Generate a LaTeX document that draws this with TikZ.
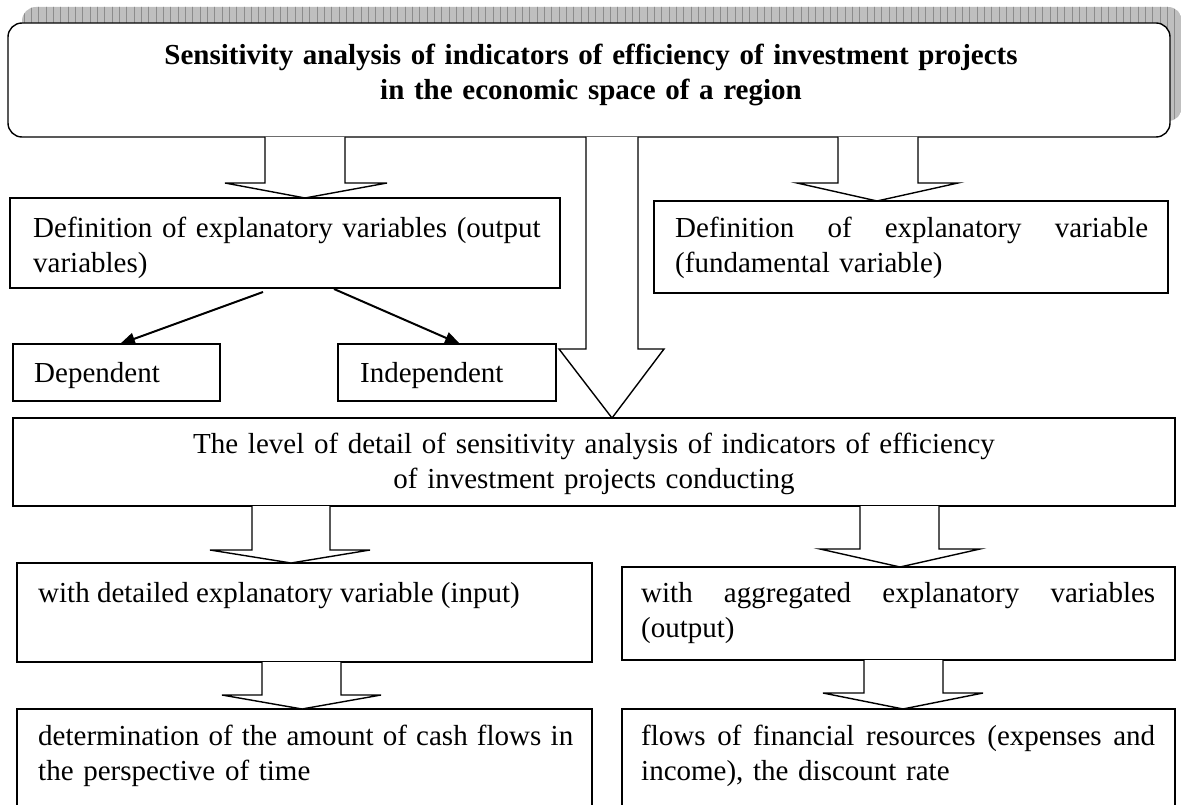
\documentclass[tikz,border=0pt]{standalone}
\usepackage{fontspec}
\setmainfont{Liberation Serif}
\usetikzlibrary{arrows.meta,calc}
\newcommand\blockarr[8]{%
  \draw[blockarrow] (#3,0 |- #1.south) -- (#3,#7) -- (#5,#7) -- (#8,0 |- #2.north) -- (#6,#7) -- (#4,#7) -- (#4,0 |- #1.south);}
\begin{document}
\begin{tikzpicture}[x=1pt,y=-1pt,
  box/.style={draw, line width=1.4pt, fill=white, anchor=north west, inner sep=0pt, outer sep=0pt},
  txt/.style={font=\fontsize{29}{35}\selectfont, inner sep=0pt, anchor=base west, align=left},
  blockarrow/.style={draw, fill=white, line width=1.4pt, line join=miter},
  conn/.style={line width=2pt, -{Triangle[length=15pt,width=12pt]}},
  shadowfill/.style={fill=black!25},
  shadowline/.style={draw=black!45, line width=0.8pt}]
\useasboundingbox (0,0) rectangle (1181,805);
\clip (0,0) rectangle (1181,805);
% shadow of the title box
\begin{scope}
  \clip[rounded corners=14pt] (22,7) rectangle (1182,121);
  \fill[shadowfill] (0,0) rectangle (1181,130);
  \foreach \i in {0,...,160} { \draw[shadowline] (24+7.33*\i,0) -- (24+7.33*\i,130); }
\end{scope}
% boxes
\node[box, rounded corners=14pt, minimum width=1162pt, minimum height=114pt] (top) at (8,23) {};
\node[box, minimum width=550pt, minimum height=90pt] (b1) at (10,198) {};
\node[box, minimum width=514pt, minimum height=92pt] (b2) at (654,201) {};
\node[box, minimum width=207pt, minimum height=57pt] (dep) at (13,344) {};
\node[box, minimum width=218pt, minimum height=57pt] (ind) at (338,344) {};
\node[box, minimum width=1162pt, minimum height=88pt] (lvl) at (13,418) {};
\node[box, minimum width=575pt, minimum height=99pt] (b5) at (17,563) {};
\node[box, minimum width=553pt, minimum height=93pt] (b6) at (622,567) {};
\node[box, minimum width=575pt, minimum height=200pt] (b7) at (17,709) {};
\node[box, minimum width=553pt, minimum height=200pt] (b8) at (622,709) {};
% texts
\node[txt, font=\fontsize{29}{35}\selectfont\bfseries, text width=1100pt, align=center, anchor=base] (t0) at (591,65)
  {Sensitivity analysis of indicators of efficiency of investment projects\\in the economic space of a region};
\node[txt, text width=530pt] (t1) at (33,238) {Definition of explanatory variables (output\\variables)};
\node[txt, text width=480pt] (t2) at (675,238)
  {\hbox to 473pt{Definition\hfill of\hfill explanatory\hfill variable}\\(fundamental variable)};
\node[txt] (t3) at (34,382) {Dependent};
\node[txt] (t4) at (360,382) {Independent};
\node[txt, text width=1100pt, align=center, anchor=base] (t5) at (594,453)
  {The level of detail of sensitivity analysis of indicators of efficiency\\of investment projects conducting};
\node[txt] (t6) at (38,602) {with detailed explanatory variable (input)};
\node[txt, text width=520pt] (t7) at (641,602)
  {\hbox to 514pt{with\hfill aggregated\hfill explanatory\hfill variables}\\(output)};
\node[txt, text width=540pt] (t8) at (38,745)
  {\hbox to 535pt{determination\hfill of\hfill the\hfill amount\hfill of\hfill cash\hfill flows\hfill in}\\the perspective of time};
\node[txt, text width=520pt] (t9) at (641,745)
  {\hbox to 514pt{flows\hfill of\hfill financial\hfill resources\hfill (expenses\hfill and}\\income), the discount rate};
% block arrows
\blockarr{top}{b1}{265}{345}{225}{387}{183}{305}
\blockarr{top}{b2}{838}{918}{797}{958}{183}{877}
\blockarr{top}{lvl}{586}{638}{559}{664}{349}{612}
\blockarr{lvl}{b5}{252}{330}{210}{370}{550}{291}
\blockarr{lvl}{b6}{860}{939}{820}{980}{549}{900}
\blockarr{b5}{b7}{262}{341}{222}{381}{695}{302}
\blockarr{b6}{b8}{864}{943}{823}{983}{693}{903}
% thin arrows
\draw[conn] ($(263,0 |- b1.south)+(0,4)$) -- (120,0 |- dep.north);
\draw[conn] ($(334,0 |- b1.south)+(0,1)$) -- (460,0 |- ind.north);
\end{tikzpicture}
\end{document}
